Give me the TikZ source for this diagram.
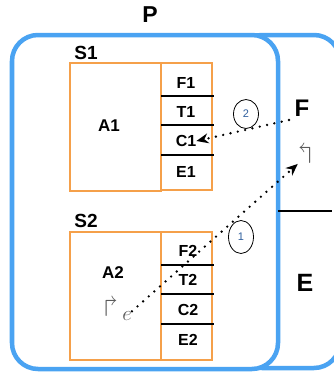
\documentclass[tikz,border=0pt]{standalone}
\usepackage{amssymb}
\usepackage{fontspec}
\newfontfamily\labfont{Liberation Sans}
\usetikzlibrary{arrows.meta,shapes.geometric}
\definecolor{pblue}{HTML}{4AA3F2}
\definecolor{sorange}{HTML}{F5A04A}
\definecolor{numblue}{HTML}{2F5F9E}
\definecolor{hookgray}{HTML}{5A5A5A}

\begin{document}
\begin{tikzpicture}[x=1pt,y=-1pt,>={Stealth[length=12pt,width=10pt]},
  lab/.style={font=\labfont\bfseries\fontsize{16}{16}\selectfont,inner sep=0pt},
  big/.style={font=\labfont\bfseries\fontsize{23}{23}\selectfont,inner sep=0pt},
  cont/.style={draw=pblue,line width=4.5pt,rounded corners=26pt,fill=white},
  sbox/.style={draw=sorange,line width=1.7pt,inner sep=0pt},
  sep/.style={line width=1.9pt},
  flow/.style={->,line width=2.6pt,line cap=round,dash pattern=on 0pt off 7.5pt},
  num/.style={draw,ellipse,line width=0.8pt,inner sep=0pt,minimum width=25pt,text=numblue,font=\labfont\fontsize{11}{11}\selectfont},
  hook/.style={text=hookgray,inner sep=0pt,font=\fontsize{28}{28}\selectfont}]
\useasboundingbox (0,0) rectangle (334,376);
\clip (0,0) rectangle (334,376);
% the two containers
\draw[cont] (236,35) rectangle (340,368);
\draw[cont] (12,35) rectangle (278,369);
\coordinate (sepL) at (278,211);
\coordinate (sepR) at (332,211);
\draw[line width=1.4pt] (sepL) -- (sepR);
\node[big] (P) at (150,15) {P};
\node[big,font=\labfont\bfseries\fontsize{24}{24}\selectfont] (F) at (302,108) {F};
\node[big,font=\labfont\bfseries\fontsize{25}{25}\selectfont] (E) at (305,283) {E};
% S1
\node[lab,font=\labfont\bfseries\fontsize{19}{19}\selectfont] (S1) at (86,53) {S1};
\node[sbox,minimum width=91pt,minimum height=128pt] (A1box) at (115.5,127) {};
\node[sbox,minimum width=51pt,minimum height=127pt] (col1) at (186.5,126.5) {};
\node[lab,font=\labfont\bfseries\fontsize{17}{17}\selectfont] (A1) at (109,126) {A1};
\node[lab] (F1) at (186,83) {F1};
\node[lab] (T1) at (186,112) {T1};
\node[lab] (C1) at (186,141) {C1};
\node[lab] (E1) at (186,172) {E1};
% S2
\node[lab,font=\labfont\bfseries\fontsize{19}{19}\selectfont] (S2) at (86,221) {S2};
\node[sbox,minimum width=91pt,minimum height=128pt] (A2box) at (115.5,296) {};
\node[sbox,minimum width=51pt,minimum height=128pt] (col2) at (186.5,296) {};
\node[lab,font=\labfont\bfseries\fontsize{17}{17}\selectfont] (A2) at (113,273) {A2};
\node[lab] (F2) at (188,251) {F2};
\node[lab] (T2) at (188,280) {T2};
\node[lab] (C2) at (188,310) {C2};
\node[lab] (E2) at (188,340) {E2};
\foreach \y in {96,125,155,265,294,324}
  \draw[sep] (161,\y) -- (214,\y);
% hooks
\node[hook] (rsh) at (111,307) {$\Rsh$};
\node[hook,font=\fontsize{22}{22}\selectfont] (e) at (127,316) {$e$};
\node[hook] (lsh) at (305,154) {$\Lsh$};
% flows
\coordinate (src2) at (289,120);
\draw[flow] (e.north east) -- (lsh.south west);
\draw[flow] (src2) -- (C1.east);
\node[num,minimum height=33pt] (n1) at (241,237) {1};
\node[num,minimum height=29pt] (n2) at (246,114) {2};
\end{tikzpicture}
\end{document}
